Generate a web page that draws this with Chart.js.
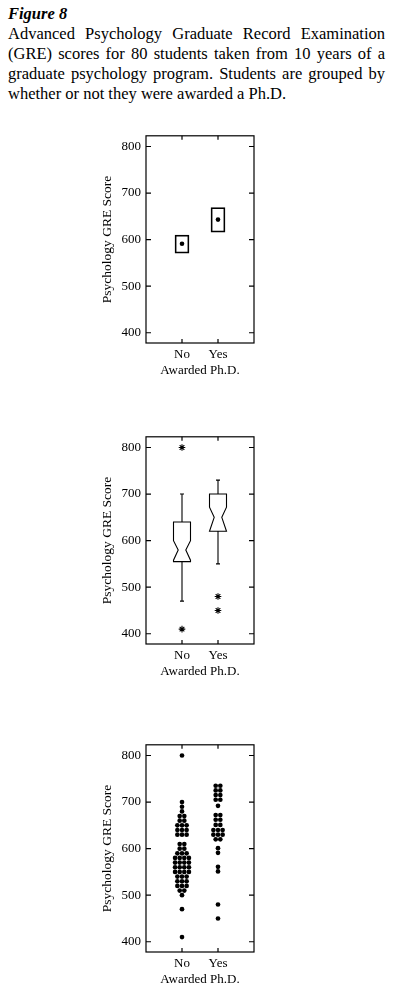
<!DOCTYPE html>
<html>
<head>
<meta charset="utf-8">
<script src="https://cdn.jsdelivr.net/npm/chart.js@4.4.1/dist/chart.umd.min.js"></script>
<style>
  body { margin: 0; background: #fff; width: 393px; height: 1005px; position: relative; overflow: hidden;
         font-family: "Liberation Serif", "Times New Roman", serif; color: #000; }
  #caption { position: absolute; left: 8px; top: 4px; width: 377px; font-size: 16.5px; line-height: 20px; }
  #caption div { text-align: justify; text-align-last: justify; white-space: nowrap; }
  #caption div.last { text-align-last: left; }
  .fig { font-weight: bold; font-style: italic; }
  canvas { position: absolute; left: 90px; }
</style>
</head>
<body>
<div id="caption">
  <div class="fig last">Figure 8</div>
  <div>Advanced Psychology Graduate Record Examination</div>
  <div>(GRE) scores for 80 students taken from 10 years of a</div>
  <div>graduate psychology program. Students are grouped by</div>
  <div class="last">whether or not they were awarded a Ph.D.</div>
</div>
<canvas id="c1" width="180" height="260" style="top:123px"></canvas>
<canvas id="c2" width="180" height="260" style="top:424px"></canvas>
<canvas id="c3" width="180" height="260" style="top:732px"></canvas>
<script>
"use strict";
const groups = ["No", "Yes"];
const yTicks = [400, 500, 600, 700, 800];
const yTitle = "Psychology GRE Score";
const xTitle = "Awarded Ph.D.";

// panel 1: mean with interval box
const meanScore = [591, 643];
const boxLow = [571, 616];
const boxHigh = [610, 669];

// panel 2: notched box plot
const whiskerLow = [470, 550];
const q1 = [555, 620];
const median = [580, 650];
const q3 = [640, 700];
const whiskerHigh = [700, 730];
const notchLow = [558, 620];
const notchHigh = [600, 672];
const outliersNo = [800, 410];
const outliersYes = [480, 450];

// panel 3: dot plot rows (score, number of dots)
const dotScoresNo = [800, 700, 690, 680, 670, 660, 650, 640, 630, 610, 600, 590, 580, 570, 560, 550, 540, 530, 520, 510, 500, 470, 410];
const dotCountsNo = [1, 1, 1, 1, 2, 2, 3, 3, 3, 2, 2, 3, 4, 4, 4, 4, 3, 3, 3, 2, 1, 1, 1];
const dotScoresYes = [735, 725, 715, 705, 692, 672, 662, 651, 640, 630, 620, 601, 591, 561, 551, 480, 450];
const dotCountsYes = [2, 2, 2, 2, 1, 2, 2, 2, 3, 3, 2, 1, 1, 1, 1, 1, 1];

const serif = "'Liberation Serif', 'Times New Roman', serif";
const dotStep = 0.128;

const framePlugin = {
  id: "frame",
  afterDraw(chart) {
    const { ctx, chartArea: a, scales: { x, y } } = chart;
    ctx.save();
    ctx.strokeStyle = "#000";
    ctx.lineWidth = 1.2;
    ctx.strokeRect(a.left, a.top, a.right - a.left, a.bottom - a.top);
    ctx.beginPath();
    yTicks.forEach((v) => {
      const py = y.getPixelForValue(v);
      ctx.moveTo(a.left, py); ctx.lineTo(a.left + 5, py);
      ctx.moveTo(a.right, py); ctx.lineTo(a.right - 5, py);
    });
    groups.forEach((g, i) => {
      const px = x.getPixelForValue(i + 1);
      ctx.moveTo(px, a.top); ctx.lineTo(px, a.top + 4);
      ctx.moveTo(px, a.bottom); ctx.lineTo(px, a.bottom - 4);
    });
    ctx.stroke();
    ctx.restore();
  },
};

const notchPlugin = {
  id: "notchbox",
  afterDatasetsDraw(chart) {
    const { ctx, scales: { x, y } } = chart;
    const hw = 8.5, nw = 3.8, cap = 2;
    ctx.save();
    ctx.strokeStyle = "#000";
    ctx.lineWidth = 1.1;
    groups.forEach((g, i) => {
      const cx = x.getPixelForValue(i + 1);
      const py = (v) => y.getPixelForValue(v);
      ctx.beginPath();
      ctx.moveTo(cx - hw, py(q3[i]));
      ctx.lineTo(cx + hw, py(q3[i]));
      ctx.lineTo(cx + hw, py(notchHigh[i]));
      ctx.lineTo(cx + nw, py(median[i]));
      ctx.lineTo(cx + hw, py(notchLow[i]));
      ctx.lineTo(cx + hw, py(q1[i]));
      ctx.lineTo(cx - hw, py(q1[i]));
      ctx.lineTo(cx - hw, py(notchLow[i]));
      ctx.lineTo(cx - nw, py(median[i]));
      ctx.lineTo(cx - hw, py(notchHigh[i]));
      ctx.closePath();
      ctx.moveTo(cx, py(q3[i])); ctx.lineTo(cx, py(whiskerHigh[i]));
      ctx.moveTo(cx - cap, py(whiskerHigh[i])); ctx.lineTo(cx + cap, py(whiskerHigh[i]));
      ctx.moveTo(cx, py(q1[i])); ctx.lineTo(cx, py(whiskerLow[i]));
      ctx.moveTo(cx - cap, py(whiskerLow[i])); ctx.lineTo(cx + cap, py(whiskerLow[i]));
      ctx.stroke();
    });
    ctx.restore();
  },
};

function axes() {
  return {
    x: {
      type: "linear", min: 0, max: 3, offset: false,
      afterBuildTicks: (s) => { s.ticks = groups.map((g, i) => ({ value: i + 1 })); },
      ticks: { callback: (v) => groups[v - 1] ?? "", color: "#000", font: { family: serif, size: 13 }, padding: 4, maxRotation: 0, autoSkip: false },
      grid: { display: false, drawTicks: false },
      border: { display: false },
      title: { display: true, text: xTitle, color: "#000", font: { family: serif, size: 13 }, padding: { top: 0, bottom: 5 } },
      afterFit: (s) => { s.height = 40; },
    },
    y: {
      type: "linear", min: 378, max: 823,
      afterBuildTicks: (s) => { s.ticks = yTicks.map((v) => ({ value: v })); },
      ticks: { color: "#000", font: { family: serif, size: 13 }, padding: 5 },
      grid: { display: false, drawTicks: false },
      border: { display: false },
      title: { display: true, text: yTitle, color: "#000", font: { family: serif, size: 13.5 }, padding: { top: 9, bottom: 0 } },
      afterFit: (s) => { s.width = 56; },
    },
  };
}

function baseOptions() {
  return {
    responsive: false,
    animation: false,
    layout: { padding: { top: 10, right: 16, bottom: 0, left: 0 } },
    plugins: { legend: { display: false }, tooltip: { enabled: false } },
    scales: axes(),
  };
}

function dotRows(scores, counts, center) {
  const pts = [];
  scores.forEach((s, r) => {
    for (let k = 0; k < counts[r]; k++) {
      pts.push({ x: center + (k - (counts[r] - 1) / 2) * dotStep, y: s });
    }
  });
  return pts;
}

new Chart(document.getElementById("c1"), {
  type: "bar",
  data: {
    datasets: [
      {
        type: "bar",
        data: groups.map((g, i) => ({ x: i + 1, y: [boxLow[i], boxHigh[i]] })),
        backgroundColor: "rgba(0,0,0,0)",
        borderColor: "#000",
        borderWidth: 1.1,
        borderSkipped: false,
        barThickness: 14,
      },
      {
        type: "scatter",
        data: groups.map((g, i) => ({ x: i + 1, y: meanScore[i] })),
        pointRadius: 2.3,
        pointBackgroundColor: "#000",
        pointBorderWidth: 0,
      },
    ],
  },
  options: baseOptions(),
  plugins: [framePlugin],
});

new Chart(document.getElementById("c2"), {
  type: "scatter",
  data: {
    datasets: [
      {
        data: outliersNo.map((v) => ({ x: 1, y: v })).concat(outliersYes.map((v) => ({ x: 2, y: v }))),
        pointStyle: "star",
        pointRadius: 3.3,
        pointBorderColor: "#000",
        pointBorderWidth: 1.1,
      },
    ],
  },
  options: baseOptions(),
  plugins: [framePlugin, notchPlugin],
});

new Chart(document.getElementById("c3"), {
  type: "scatter",
  data: {
    datasets: [
      {
        data: dotRows(dotScoresNo, dotCountsNo, 1).concat(dotRows(dotScoresYes, dotCountsYes, 2)),
        pointRadius: 2.35,
        pointBackgroundColor: "#000",
        pointBorderWidth: 0,
      },
    ],
  },
  options: baseOptions(),
  plugins: [framePlugin],
});
</script>
</body>
</html>
